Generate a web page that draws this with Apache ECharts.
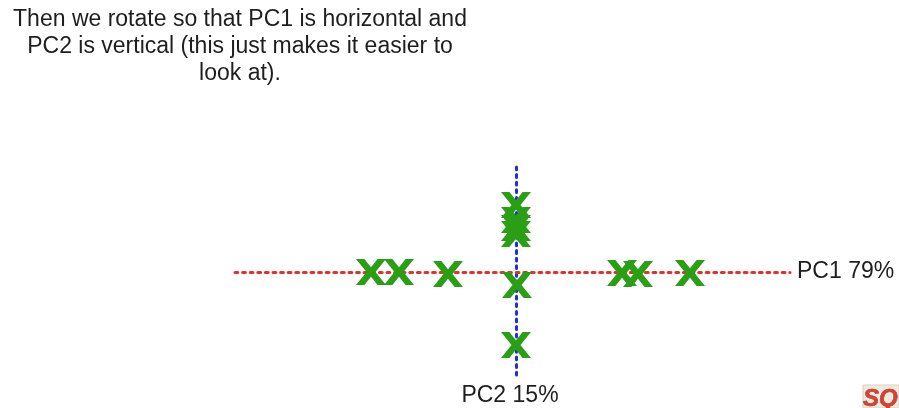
<!DOCTYPE html>
<html>
<head>
<meta charset="utf-8">
<script src="https://cdn.jsdelivr.net/npm/echarts@6/dist/echarts.min.js"></script>
<style>
html,body{margin:0;padding:0;background:#fff;}
#c{width:899px;height:408px;}
</style>
</head>
<body>
<div id="c"></div>
<script>
// Data (PC1 / PC2 scores)
const pc1Scores = [-145, -117, -68, 1, 0, 0, 0, 0, 0, 106, 122, 174];
const pc2Scores = [0, 0, -2, -13, -73, 67, 52, 44, 38, -1, -2, -1];
const axisNames = ['PC1 79%', 'PC2 15%'];
const captionLines = [
  'Then we rotate so that PC1 is horizontal and',
  'PC2 is vertical (this just makes it easier to',
  'look at).'
];

const points = pc1Scores.map((x, i) => [x, pc2Scores[i]]);
const font = '"Liberation Sans", Arial, Helvetica, sans-serif';
const xShape = 'path://M0,0 L28,0 L50,32 L72,0 L100,0 L65,50 L100,100 L72,100 L50,68 L28,100 L0,100 L35,50 Z';

const chart = echarts.init(document.getElementById('c'));
chart.setOption({
  animation: false,
  backgroundColor: '#ffffff',
  grid: { left: 235, right: 109, top: 165, bottom: 33 },
  xAxis: {
    type: 'value', min: -281, max: 274,
    name: axisNames[0], nameLocation: 'end', nameGap: 7,
    nameTextStyle: { fontSize: 23, color: '#1e1e1e', fontFamily: font },
    axisLine: { onZero: true, lineStyle: { color: '#e3322b', width: 3, type: [2.8, 4.8] } },
    axisTick: { show: false }, axisLabel: { show: false }, splitLine: { show: false }
  },
  yAxis: {
    type: 'value', min: -103, max: 107,
    name: axisNames[1], nameLocation: 'start', nameGap: 9,
    nameTextStyle: { fontSize: 23, color: '#1e1e1e', fontFamily: font, padding: [0, 12, 0, 0] },
    axisLine: { onZero: true, lineStyle: { color: '#1f2fe0', width: 3, type: [2.8, 4.8] } },
    axisTick: { show: false }, axisLabel: { show: false }, splitLine: { show: false }
  },
  series: [{
    type: 'scatter',
    data: points,
    symbol: xShape,
    symbolSize: [30, 26],
    itemStyle: { color: '#2a9f16', opacity: 1 },
    z: 5
  }],
  graphic: [
    {
      type: 'text', x: 240, y: 6,
      style: {
        text: captionLines.join('\n'),
        align: 'center', verticalAlign: 'top', fill: '#1e1e1e',
        font: '23px ' + font, lineHeight: 27
      }
    },
    {
      type: 'group', x: 863, y: 385,
      children: [
        { type: 'rect', shape: { x: 0, y: 0, width: 36, height: 23 }, style: { fill: '#eeeadf', stroke: '#d8d2c2' } },
        { type: 'text', style: { text: 'SQ', x: 0, y: 2, fill: '#e53b2c', font: 'italic bold 24px ' + font, stroke: '#333', lineWidth: 0.5 } }
      ]
    }
  ]
});
</script>
</body>
</html>
